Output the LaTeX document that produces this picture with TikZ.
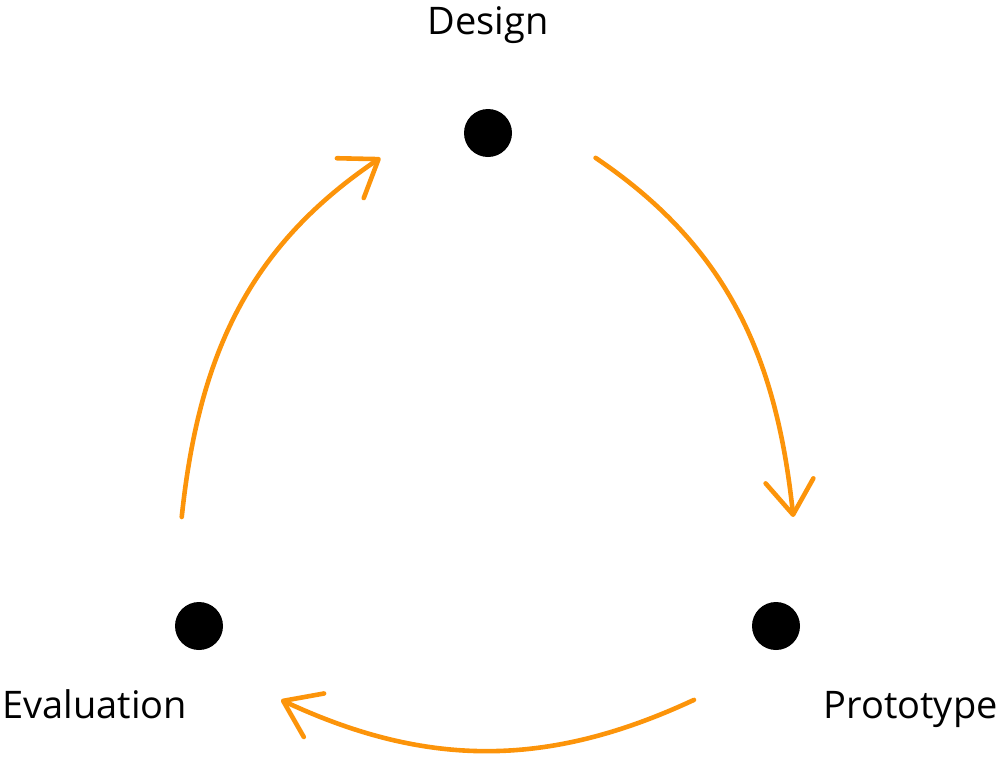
\documentclass[tikz,border=0pt]{standalone}
\usepackage{fontspec}
\setmainfont{Open Sans}
\usetikzlibrary{arrows.meta}
\definecolor{cycorange}{RGB}{252,148,10}

\begin{document}
\begin{tikzpicture}[x=0.5pt,y=-0.5pt,
				dot/.style={circle,fill=black,minimum size=24pt,inner sep=0pt},
				ring/.style={circle,minimum size=110pt,inner sep=0pt},
				lbl/.style={font=\fontsize{19}{22}\selectfont,inner sep=0pt},
				cycle/.style={draw=cycorange,line width=2.3pt,line cap=round,
					-{Straight Barb[round,length=17pt,width=24pt]}}]
				\useasboundingbox (0,0) rectangle (1000,757);
				% stages
				\node[dot] (design) at (488,133) {};
				\node[dot] (proto) at (776,626) {};
				\node[dot] (eval) at (199,626) {};
				\node[ring] (designring) at (design) {};
				\node[ring] (protoring) at (proto) {};
				\node[ring] (evalring) at (eval) {};
				% labels
				\node[lbl,anchor=base] (designlbl) at (488,34) {Design};
				\node[lbl,anchor=base east] (protolbl) at (998,718) {Prototype};
				\node[lbl,anchor=base west] (evallbl) at (2,718) {Evaluation};
				% arrows
				\draw[cycle] (designring.-13) to[out=-34,in=96] (protoring.81);
				\draw[cycle] (protoring.222) to[out=205,in=-25] (evalring.-42);
				\draw[cycle] (evalring.99) to[out=84,in=214] (designring.193);
			\end{tikzpicture}
\end{document}
